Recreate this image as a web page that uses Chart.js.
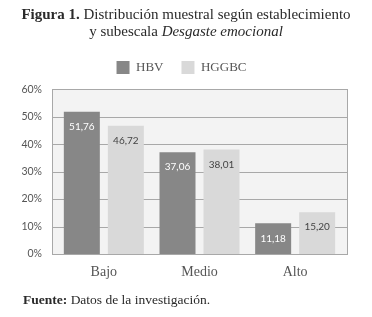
<!DOCTYPE html>
<html>
<head>
<meta charset="utf-8">
<script src="https://cdn.jsdelivr.net/npm/chart.js@4"></script>
<style>
  body { margin: 0; background: #fff; }
  #wrap { position: relative; width: 372px; height: 317px; }
  #title { position: absolute; top: 6px; left: 0; width: 372px; text-align: center;
    font-family: "Liberation Serif", serif; font-size: 15px; line-height: 17px; color: #2a2a2a; }
  #foot { position: absolute; top: 292px; left: 23px;
    font-family: "Liberation Serif", serif; font-size: 13.5px; color: #2a2a2a; }
  canvas { position: absolute; top: 0; left: 0; }
</style>
</head>
<body>
<div id="wrap">
  <canvas id="chart" width="372" height="317"></canvas>
  <div id="title"><b>Figura 1.</b> Distribución muestral según establecimiento<br>y subescala <i>Desgaste emocional</i></div>
  <div id="foot"><b>Fuente:</b> Datos de la investigación.</div>
</div>
<script>
// Niveles de la subescala y porcentajes por establecimiento
const categories = ['Bajo', 'Medio', 'Alto'];
const hbvValues = [51.76, 37.06, 11.18];
const hggbcValues = [46.72, 38.01, 15.20];
const yTicks = [0, 10, 20, 30, 40, 50, 60];

// el recuadro gris es un poco mas ancho que la zona de barras
const EXTRA = 4;

// fondo gris, lineas de cuadricula y borde del area del grafico
const plotBackground = {
  id: 'plotBackground',
  beforeDatasetsDraw(chart) {
    const a = chart.chartArea;
    const ctx = chart.ctx;
    const y = chart.scales.y;
    ctx.save();
    ctx.fillStyle = '#f3f3f3';
    ctx.fillRect(a.left - EXTRA, a.top, a.right - a.left + 2 * EXTRA, a.bottom - a.top);
    ctx.strokeStyle = '#a8a8a8';
    ctx.lineWidth = 1;
    yTicks.forEach(v => {
      const py = Math.round(y.getPixelForValue(v)) + 0.5;
      ctx.beginPath();
      ctx.moveTo(a.left - EXTRA, py);
      ctx.lineTo(a.right + EXTRA, py);
      ctx.stroke();
    });
    ctx.restore();
  },
  afterDraw(chart) {
    const a = chart.chartArea;
    const ctx = chart.ctx;
    ctx.save();
    ctx.strokeStyle = '#a8a8a8';
    ctx.lineWidth = 1;
    ctx.strokeRect(Math.round(a.left - EXTRA) + 0.5, Math.round(a.top) + 0.5,
      Math.round(a.right - a.left + 2 * EXTRA), Math.round(a.bottom - a.top));
    ctx.restore();
  }
};

// etiquetas de valores dentro de las barras
const valueLabels = {
  id: 'valueLabels',
  afterDatasetsDraw(chart) {
    const ctx = chart.ctx;
    ctx.save();
    ctx.font = '10px Lato, sans-serif';
    ctx.textAlign = 'center';
    ctx.textBaseline = 'middle';
    chart.data.datasets.forEach((ds, i) => {
      chart.getDatasetMeta(i).data.forEach((bar, j) => {
        ctx.fillStyle = i === 0 ? '#ffffff' : '#444444';
        ctx.fillText(ds.data[j].toFixed(2).replace('.', ','), bar.x, bar.y + 15);
      });
    });
    ctx.restore();
  }
};

new Chart(document.getElementById('chart'), {
  type: 'bar',
  data: {
    labels: categories,
    datasets: [{
      label: 'HBV',
      data: hbvValues,
      backgroundColor: '#878787'
    }, {
      label: 'HGGBC',
      data: hggbcValues,
      backgroundColor: '#d9d9d9'
    }]
  },
  options: {
    responsive: false,
    animation: false,
    layout: { padding: { top: 43, left: 20, right: 29, bottom: 35 } },
    categoryPercentage: 0.92,
    barPercentage: 0.818,
    plugins: {
      legend: {
        position: 'top',
        labels: {
          boxWidth: 13,
          boxHeight: 13,
          padding: 18,
          color: '#555',
          font: { family: '"Liberation Serif", serif', size: 13 }
        }
      },
      // separador vacio entre la leyenda y el grafico
      subtitle: {
        display: true,
        text: '',
        weight: 500,
        font: { size: 1 },
        padding: { top: 0, bottom: 4 }
      },
      tooltip: { enabled: false }
    },
    scales: {
      x: {
        afterFit(scale) { scale.height = 28; },
        grid: { display: false },
        border: { display: false },
        ticks: { color: '#555', padding: 2, font: { family: '"Liberation Serif", serif', size: 14 } }
      },
      y: {
        min: 0,
        max: 60,
        afterFit(scale) { scale.width = 36; },
        afterBuildTicks(scale) { scale.ticks = yTicks.map(v => ({ value: v })); },
        grid: { display: false, drawTicks: false },
        border: { display: false },
        ticks: {
          color: '#555',
          padding: 14,
          font: { family: 'Lato, sans-serif', size: 10.5 },
          callback: v => v + '%'
        }
      }
    }
  },
  plugins: [plotBackground, valueLabels]
});
</script>
</body>
</html>
